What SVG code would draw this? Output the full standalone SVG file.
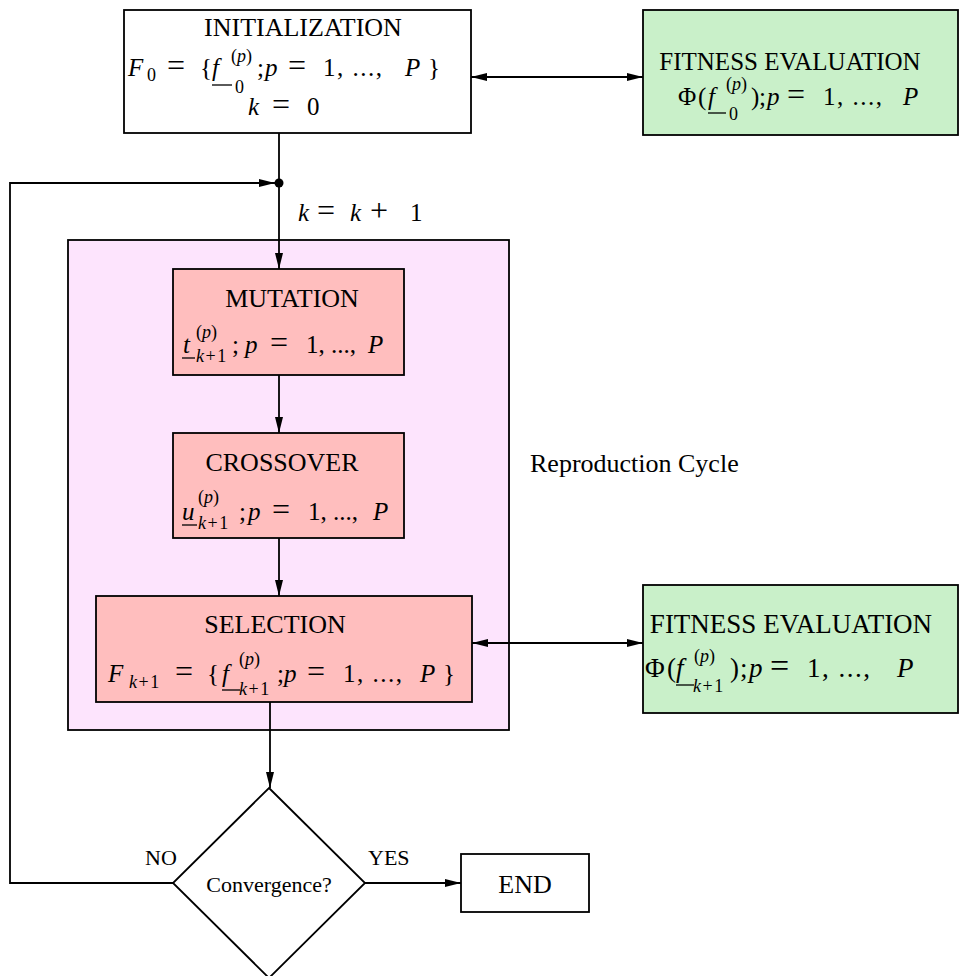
<svg xmlns="http://www.w3.org/2000/svg" width="967" height="976" viewBox="0 0 967 976" font-family="'Liberation Serif','Times New Roman',serif">
<style>
text{font-family:"Liberation Serif","Times New Roman",serif;fill:#000}
.t{font-size:26px}
.m{font-size:25px}
.i{font-style:italic}
.s{font-size:18px}
.kp{letter-spacing:1.5px}
.ls{letter-spacing:1.5px}
.eq{font-size:32px}
.lb{font-size:22px}
.box{stroke:#000;stroke-width:1.8}
.w{fill:#fff}
.r{fill:#ffbebe}
.g{fill:#c9f0c9}
.ul{stroke:#000;stroke-width:1.3}
.c{fill:none;stroke:#000;stroke-width:1.8}
</style>
<defs>
<marker id="ah" markerUnits="userSpaceOnUse" markerWidth="18" markerHeight="10" refX="16" refY="4" orient="auto-start-reverse">
<path d="M0,0 L16,4 L0,8 z" fill="#000"/>
</marker>
</defs>
<rect width="967" height="976" fill="#fff"/>

<g id="cycle">
<rect x="68" y="240" width="441" height="490" fill="#fde4fd" class="box"/>
<text x="530" y="472" font-size="26">Reproduction Cycle</text>
</g>

<g id="connectors">
<line x1="471" y1="77" x2="643" y2="77" class="c" marker-start="url(#ah)" marker-end="url(#ah)"/>
<line x1="279" y1="133" x2="279" y2="269" class="c" marker-end="url(#ah)"/>
<polyline points="173,883 10,883 10,183 275,183" class="c" marker-end="url(#ah)"/>
<circle cx="279" cy="183" r="4.5" fill="#000"/>
<line x1="279" y1="375" x2="279" y2="433" class="c" marker-end="url(#ah)"/>
<line x1="279" y1="538" x2="279" y2="596" class="c" marker-end="url(#ah)"/>
<line x1="472" y1="643" x2="643" y2="643" class="c" marker-start="url(#ah)" marker-end="url(#ah)"/>
<line x1="270" y1="702" x2="270" y2="788" class="c" marker-end="url(#ah)"/>
<line x1="365" y1="883" x2="461" y2="883" class="c" marker-end="url(#ah)"/>
<text x="298" y="221" class="m"><tspan class="i">k</tspan><tspan x="317" class="eq">=</tspan><tspan x="350" class="i">k</tspan><tspan x="370" class="eq">+</tspan><tspan x="410">1</tspan></text>
<text x="145" y="865" class="lb">NO</text>
<text x="368" y="865" class="lb">YES</text>
</g>

<g id="init">
<rect x="124" y="10" width="347" height="123" class="box w"/>
<text x="303" y="36" class="t" text-anchor="middle">INITIALIZATION</text>
<text y="76" class="m"><tspan x="128" class="i">F</tspan><tspan x="147" y="81" class="s">0</tspan><tspan x="167" y="76" class="eq">=</tspan><tspan x="200">{</tspan><tspan x="212" class="i">f</tspan><tspan x="231" y="62" class="s">(<tspan class="i">p</tspan>)</tspan><tspan x="235" y="93" class="s">0</tspan><tspan x="257" y="76">;</tspan><tspan x="265" class="i">p</tspan><tspan x="288" class="eq">=</tspan><tspan x="323" class="ls">1, ..., </tspan><tspan x="405" class="i">P</tspan><tspan x="428">}</tspan></text>
<line x1="212" y1="85" x2="232" y2="85" class="ul"/>
<text y="115" class="m"><tspan x="248" class="i">k</tspan><tspan x="272" class="eq">=</tspan><tspan x="307">0</tspan></text>
</g>

<g id="fitness1">
<rect x="643" y="10" width="315" height="125" class="box g"/>
<text x="790" y="70" font-size="25" text-anchor="middle">FITNESS EVALUATION</text>
<text y="105" class="m"><tspan x="678">Φ</tspan><tspan x="698">(</tspan><tspan x="708" class="i">f</tspan><tspan x="726" y="90" class="s">(<tspan class="i">p</tspan>)</tspan><tspan x="729" y="120" class="s">0</tspan><tspan x="751" y="105">)</tspan><tspan x="759">;</tspan><tspan x="767" class="i">p</tspan><tspan x="787" class="eq">=</tspan><tspan x="823" class="ls">1, ..., </tspan><tspan x="903" class="i">P</tspan></text>
<line x1="708" y1="113" x2="726" y2="113" class="ul"/>
</g>

<g id="mutation">
<rect x="173" y="269" width="231" height="106" class="box r"/>
<text x="292" y="307" class="t" text-anchor="middle">MUTATION</text>
<text y="353" class="m"><tspan x="183" class="i">t</tspan><tspan x="196" y="338" class="s">(<tspan class="i">p</tspan>)</tspan><tspan x="196" y="362" class="s kp"><tspan class="i">k</tspan>+1</tspan><tspan x="232" y="353">;</tspan><tspan x="245" class="i">p</tspan><tspan x="270" class="eq">=</tspan><tspan x="306">1, ..., </tspan><tspan x="368" class="i">P</tspan></text>
<line x1="182" y1="358" x2="195" y2="358" class="ul"/>
</g>

<g id="crossover">
<rect x="173" y="433" width="231" height="105" class="box r"/>
<text x="282" y="471" class="t" text-anchor="middle">CROSSOVER</text>
<text y="520" class="m"><tspan x="182" class="i">u</tspan><tspan x="198" y="503" class="s">(<tspan class="i">p</tspan>)</tspan><tspan x="198" y="529" class="s kp"><tspan class="i">k</tspan>+1</tspan><tspan x="239" y="520">;</tspan><tspan x="248" class="i">p</tspan><tspan x="272" class="eq">=</tspan><tspan x="308">1, ..., </tspan><tspan x="373" class="i">P</tspan></text>
<line x1="182" y1="525" x2="197" y2="525" class="ul"/>
</g>

<g id="selection">
<rect x="96" y="596" width="376" height="106" class="box r"/>
<text x="275" y="633" class="t" text-anchor="middle">SELECTION</text>
<text y="682" class="m"><tspan x="108" class="i">F</tspan><tspan x="129" y="688" class="s kp"><tspan class="i">k</tspan>+1</tspan><tspan x="175" y="682" class="eq">=</tspan><tspan x="207">{</tspan><tspan x="222" class="i">f</tspan><tspan x="239" y="665" class="s">(<tspan class="i">p</tspan>)</tspan><tspan x="239" y="695" class="s kp"><tspan class="i">k</tspan>+1</tspan><tspan x="277" y="682">;</tspan><tspan x="284" class="i">p</tspan><tspan x="307" class="eq">=</tspan><tspan x="343" class="ls">1, ..., </tspan><tspan x="420" class="i">P</tspan><tspan x="443">}</tspan></text>
<line x1="222" y1="690" x2="240" y2="690" class="ul"/>
</g>

<g id="fitness2">
<rect x="643" y="585" width="315" height="128" class="box g"/>
<text x="791" y="633" font-size="27" text-anchor="middle">FITNESS EVALUATION</text>
<text y="677" font-size="27"><tspan x="645">Φ</tspan><tspan x="667">(</tspan><tspan x="676" class="i">f</tspan><tspan x="694" y="662" font-size="18">(<tspan class="i">p</tspan>)</tspan><tspan x="693" y="692" font-size="18" class="kp"><tspan class="i">k</tspan>+1</tspan><tspan x="730" y="677">)</tspan><tspan x="740">;</tspan><tspan x="749" class="i">p</tspan><tspan x="770" font-size="34">=</tspan><tspan x="807" class="ls">1, ..., </tspan><tspan x="897" class="i">P</tspan></text>
<line x1="676" y1="685" x2="694" y2="685" class="ul"/>
</g>

<g id="convergence">
<polygon points="269,788 365,883 269,978 173,883" class="box w"/>
<text x="269" y="892" class="lb" text-anchor="middle">Convergence?</text>
</g>

<g id="end">
<rect x="461" y="854" width="128" height="58" class="box w"/>
<text x="525" y="893" class="t" text-anchor="middle">END</text>
</g>
</svg>
